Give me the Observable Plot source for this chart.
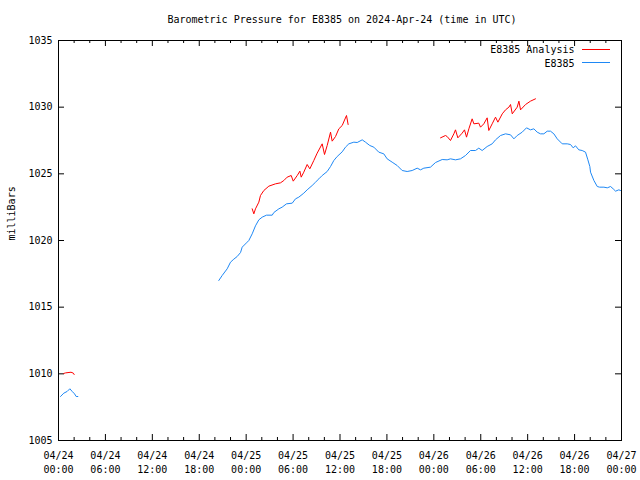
<!DOCTYPE html>
<html>
<head>
<meta charset="utf-8">
<script src="https://cdn.jsdelivr.net/npm/d3@7"></script>
<script src="https://cdn.jsdelivr.net/npm/@observablehq/plot@0.6"></script>
<style>
  html, body { margin: 0; padding: 0; background: white; }
</style>
</head>
<body>
<script>
// Hours since 2024-04-24 00:00 UTC, and pressure in millibars
const blue1Hours  = [0.26, 0.68, 1.11, 1.45, 1.75, 2.05, 2.26, 2.47];
const blue1Values = [1008.3, 1008.55, 1008.68, 1008.88, 1008.68, 1008.5, 1008.3, 1008.3];

const red1Hours  = [0.68, 0.9, 1.6, 1.9, 2.0];
const red1Values = [1010.03, 1010.07, 1010.12, 1010.05, 1009.95];

const blue2Hours = [20.5, 20.93, 21.57, 22.0, 22.42, 22.85, 23.28, 23.49, 24.13, 24.34, 24.77, 25.19, 25.62, 26.05, 26.6, 27.33, 27.54, 28.18, 28.6, 29.16, 29.89, 30.31, 30.73, 31.37, 31.8, 32.44, 32.87, 33.3, 33.72, 34.36, 34.79, 35.21, 35.64, 36.28, 36.7, 37.13, 37.77, 38.2, 38.84, 39.26, 39.81, 40.33, 40.96, 41.6, 42.03, 42.67, 43.31, 43.95, 44.59, 45.23, 45.87, 46.3, 46.72, 47.57, 48.22, 49.07, 49.7, 50.13, 50.77, 51.41, 52.05, 52.69, 53.33, 53.75, 54.18, 54.82, 55.46, 55.89, 56.53, 57.17, 57.81, 58.24, 58.66, 59.3, 59.85, 60.36, 60.79, 61.22, 61.64, 62.07, 62.5, 62.92, 63.35, 63.78, 64.42, 65.06, 65.48, 65.82, 66.12, 66.54, 66.97, 67.4, 67.7, 67.95, 68.04, 68.47, 68.9, 69.2, 69.75, 70.18, 70.6, 70.94, 71.24, 71.66, 71.87];
const blue2Values = [1017.0, 1017.375, 1017.875, 1018.375, 1018.6, 1018.8, 1019.1, 1019.5, 1019.875, 1020.0, 1020.5, 1021.1, 1021.55, 1021.75, 1021.9, 1021.9, 1022.1, 1022.375, 1022.5, 1022.75, 1022.8, 1023.125, 1023.25, 1023.55, 1023.8, 1024.125, 1024.375, 1024.625, 1024.875, 1025.175, 1025.55, 1026.0, 1026.3, 1026.65, 1027.0, 1027.25, 1027.375, 1027.35, 1027.55, 1027.375, 1027.125, 1027.0, 1026.625, 1026.5, 1026.125, 1025.875, 1025.625, 1025.25, 1025.175, 1025.25, 1025.425, 1025.3, 1025.425, 1025.5, 1025.85, 1026.075, 1026.05, 1026.125, 1026.05, 1026.125, 1026.375, 1026.75, 1026.75, 1026.925, 1026.75, 1027.05, 1027.25, 1027.55, 1027.875, 1028.0, 1027.925, 1027.625, 1027.875, 1028.125, 1028.45, 1028.3, 1028.375, 1028.125, 1028.0, 1028.0, 1028.2, 1028.2, 1028.0, 1027.625, 1027.25, 1027.25, 1027.2, 1026.95, 1027.1, 1026.8, 1026.75, 1026.625, 1026.05, 1025.55, 1025.125, 1024.5, 1024.05, 1024.0, 1024.0, 1023.95, 1024.05, 1023.875, 1023.7, 1023.8, 1023.75];

const red2Hours = [24.77, 24.98, 25.19, 25.62, 25.83, 26.26, 26.9, 27.75, 28.39, 28.82, 29.24, 29.76, 30.02, 30.53, 30.87, 31.04, 31.37, 31.8, 32.14, 32.65, 33.08, 33.72, 34.02, 34.36, 34.79, 35.0, 35.43, 35.85, 36.28, 36.83, 37.04];
const red2Values = [1022.375, 1022.0, 1022.375, 1022.875, 1023.375, 1023.75, 1024.075, 1024.25, 1024.325, 1024.5, 1024.75, 1024.875, 1024.45, 1024.875, 1025.2, 1024.75, 1025.125, 1025.7, 1025.375, 1026.0, 1026.55, 1027.25, 1026.45, 1027.125, 1028.125, 1027.45, 1027.8, 1028.375, 1028.625, 1029.375, 1028.7];

const red3Hours = [48.86, 49.49, 49.7, 50.13, 50.56, 50.77, 51.07, 51.62, 51.92, 52.18, 52.48, 52.9, 53.12, 53.75, 53.97, 54.39, 54.82, 55.03, 55.46, 55.89, 56.19, 56.75, 57.17, 57.6, 57.81, 58.03, 58.66, 58.88, 59.09, 59.73, 60.36, 61.0];
const red3Values = [1027.7, 1027.875, 1027.8, 1027.5, 1028.0, 1028.3, 1027.7, 1028.05, 1028.3, 1027.75, 1028.375, 1029.125, 1028.75, 1028.8, 1028.5, 1028.75, 1029.2, 1028.25, 1028.75, 1029.25, 1028.875, 1029.5, 1029.8, 1030.0, 1030.2, 1029.5, 1030.0, 1030.45, 1029.8, 1030.2, 1030.45, 1030.625];

const majorTickHours = [0, 6, 12, 18, 24, 30, 36, 42, 48, 54, 60, 66, 72];
const minorTickHours = [2, 4, 8, 10, 14, 16, 20, 22, 26, 28, 32, 34, 38, 40, 44, 46, 50, 52, 56, 58, 62, 64, 68, 70];
const yTicks = [1005, 1010, 1015, 1020, 1025, 1030, 1035];

const titleText = "Barometric Pressure for E8385 on 2024-Apr-24 (time in UTC)";
const yLabel = "milliBars";
const seriesNames = ["E8385 Analysis", "E8385"];
const seriesColors = ["#ff0000", "#1e88f5"];

const start = Date.UTC(2024, 3, 24);
const toDate = h => new Date(start + h * 3600e3);
const pts = (hs, vs) => hs.map((h, i) => ({t: toDate(h), v: vs[i]}));

const majorTicks = majorTickHours.map(toDate);
const minorTicks = minorTickHours.map(toDate);

const frameH = 400, frameW = 563;
const font = "'DejaVu Sans Mono', 'Liberation Mono', monospace";
const fs = 10;

const chart = Plot.plot({
  width: 640,
  height: 480,
  marginLeft: 58,
  marginRight: 19,
  marginTop: 40,
  marginBottom: 40,
  style: {fontFamily: font, fontSize: fs + "px", background: "white", color: "black"},
  x: {type: "utc", domain: [toDate(0), toDate(72)]},
  y: {domain: [1005, 1035]},
  marks: [
    Plot.axisX({ticks: majorTicks, tickFormat: d3.utcFormat("%m/%d\n%H:%M"), tickSize: 0, tickPadding: 9, lineHeight: 1.4, label: null, fontSize: fs}),
    Plot.axisY({ticks: yTicks, tickFormat: d => String(d), tickSize: 0, tickPadding: 6, label: null, fontSize: fs}),
    // ticks (inward, mirrored)
    Plot.ruleX(majorTicks, {x: d => d, insetTop: frameH - 6, stroke: "black"}),
    Plot.ruleX(majorTicks, {x: d => d, insetBottom: frameH - 6, stroke: "black"}),
    Plot.ruleX(minorTicks, {x: d => d, insetTop: frameH - 3, stroke: "black"}),
    Plot.ruleX(minorTicks, {x: d => d, insetBottom: frameH - 3, stroke: "black"}),
    Plot.ruleY(yTicks, {y: d => d, insetRight: frameW - 6, stroke: "black"}),
    Plot.ruleY(yTicks, {y: d => d, insetLeft: frameW - 6, stroke: "black"}),
    // data
    Plot.line(pts(red1Hours, red1Values), {x: "t", y: "v", stroke: seriesColors[0], strokeWidth: 1}),
    Plot.line(pts(red2Hours, red2Values), {x: "t", y: "v", stroke: seriesColors[0], strokeWidth: 1}),
    Plot.line(pts(red3Hours, red3Values), {x: "t", y: "v", stroke: seriesColors[0], strokeWidth: 1}),
    Plot.line(pts(blue1Hours, blue1Values), {x: "t", y: "v", stroke: seriesColors[1], strokeWidth: 1}),
    Plot.line(pts(blue2Hours, blue2Values), {x: "t", y: "v", stroke: seriesColors[1], strokeWidth: 1}),
    Plot.frame({stroke: "black"}),
    // title
    Plot.text([titleText], {frameAnchor: "top", lineAnchor: "middle", dy: -21, dx: 2, fontSize: fs}),
    // y label
    Plot.text([yLabel], {frameAnchor: "left", rotate: -90, dx: -47, fontSize: fs}),
    // legend text
    Plot.text([seriesNames[0]], {frameAnchor: "top-right", textAnchor: "end", lineAnchor: "middle", dx: -47, dy: 9.5, fontSize: fs}),
    Plot.text([seriesNames[1]], {frameAnchor: "top-right", textAnchor: "end", lineAnchor: "middle", dx: -47, dy: 23, fontSize: fs})
  ]
});

// legend sample lines
const svg = d3.select(chart);
[[49, seriesColors[0]], [62, seriesColors[1]]].forEach(([y, c]) => {
  svg.append("line").attr("x1", 582).attr("x2", 610).attr("y1", y + 0.5).attr("y2", y + 0.5)
    .attr("stroke", c).attr("stroke-width", 1);
});

document.body.append(chart);
</script>
</body>
</html>
